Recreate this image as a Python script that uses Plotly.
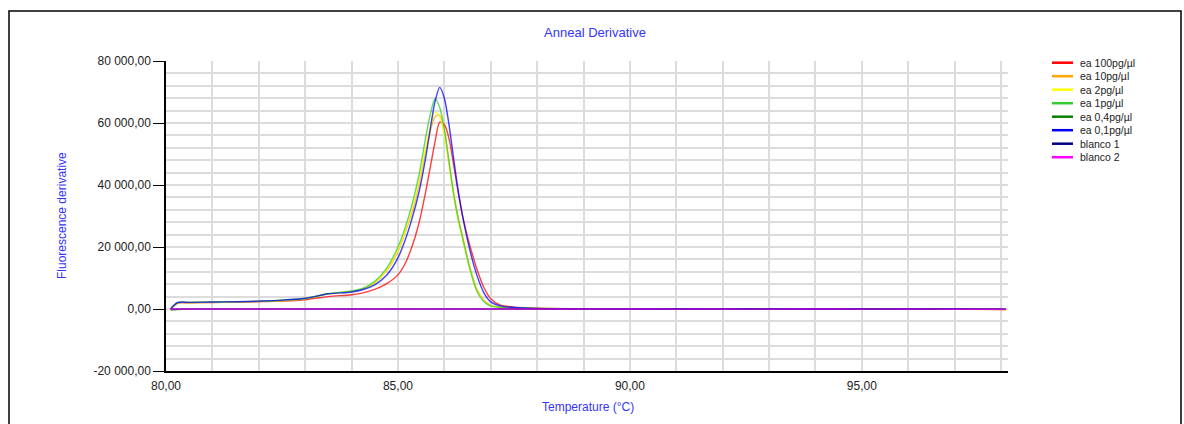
import plotly.graph_objects as go

# ---------------- data ----------------
temperature = [80.10, 80.25, 80.5, 81.0, 81.5, 82.0, 82.5, 83.0, 83.5, 84.0, 84.25, 84.5, 84.75,
               85.0, 85.15, 85.3, 85.45, 85.6, 85.7, 85.8, 85.9, 86.0, 86.1, 86.2, 86.3, 86.4,
               86.55, 86.7, 86.85, 87.0, 87.2, 87.5, 88.0, 89.0, 90.0, 91.0, 92.0, 93.0, 94.0,
               95.0, 96.0, 97.0, 98.1]

ea_100pg = [0, 1900, 2000, 2100, 2200, 2350, 2550, 3000, 4000, 4600, 5200, 6300, 8100,
            11000, 14500, 20000, 27500, 38000, 46000, 54000, 60300, 59500, 55000, 46500, 37500, 29500,
            20500, 13000, 7000, 3300, 1300, 600, 250, 100, 0, 40, -40, 20, 0, -60, 30, -50, -150]
ea_10pg = [0, 1950, 2050, 2150, 2250, 2450, 2750, 3350, 4800, 5600, 6500, 8400, 12200,
           18500, 24500, 31000, 40000, 51000, 57500, 62000, 62500, 57500, 47500, 37500, 29500, 23000,
           13500, 6400, 2800, 1200, 600, 350, 180, 30, -20, 60, 0, -30, 50, -40, 20, -80, -200]
ea_2pg = [0, 2000, 2100, 2200, 2300, 2500, 2800, 3400, 4900, 5700, 6600, 8600, 12500,
          19000, 25000, 32000, 41000, 52500, 59000, 63500, 62000, 56000, 46500, 36500, 28500, 22000,
          13000, 6000, 2600, 1100, 550, 350, 180, 40, 10, -30, 40, -20, 30, -70, 10, -40, -120]
ea_1pg = [0, 2000, 2100, 2200, 2300, 2500, 2800, 3400, 4900, 5800, 6700, 8900, 13000,
          20000, 26000, 33500, 43000, 55500, 63000, 67800, 65000, 58000, 47500, 37000, 29000, 22500,
          13000, 5800, 2400, 1000, 550, 400, 200, 20, -30, 50, -60, 40, -20, -90, 60, -30, -100]
ea_04pg = [-300, -150, -50, 0, 20, -20, 30, 0, -40, 10, 0, 30, -20,
           0, 20, -10, 0, 30, -20, 10, 0, -30, 20, 0, -10, 30,
           -20, 0, 10, -30, 20, 0, -20, 10, -40, 30, -10, 20, -30, 0, 40, -20, -80]
ea_01pg = [0, 2100, 2150, 2250, 2350, 2550, 2850, 3450, 4900, 5500, 6300, 7800, 10800,
           16500, 22000, 29000, 37500, 49000, 58500, 67000, 71500, 68000, 59500, 48500, 38000, 29500,
           19000, 11000, 5300, 2300, 1000, 500, 200, 50, 20, -20, 30, -40, 10, -50, 0, -60, -120]
blanco_1 = [0, -20, 10, 0, -10, 20, 0, -20, 10, 0, -10, 0, 20,
            -10, 0, 10, -20, 0, 10, 0, -10, 20, 0, -10, 10, 0,
            -20, 10, 0, -10, 20, 0, -10, 10, 0, -20, 10, 0, -10, 20, 0, -10, -30]
blanco_2 = [0, 10, -10, 20, 0, -20, 10, 0, -10, 20, 0, -10, 0,
            10, -10, 0, 20, -10, 0, 10, -20, 0, 10, -10, 0, 20,
            0, -10, 10, 0, -20, 10, 0, -10, 20, -30, 0, -50, 10, -40, -20, -60, -60]

series_names = ["ea 100pg/µl", "ea 10pg/µl", "ea 2pg/µl", "ea 1pg/µl",
                "ea 0,4pg/µl", "ea 0,1pg/µl", "blanco 1", "blanco 2"]
series_values = [ea_100pg, ea_10pg, ea_2pg, ea_1pg, ea_04pg, ea_01pg, blanco_1, blanco_2]
series_colors = ["#ff0000", "#ffa500", "#ffff00", "#32cd32",
                 "#008000", "#0000ff", "#000080", "#ff00ff"]

y_ticks = [-20000, 0, 20000, 40000, 60000, 80000]
y_tick_labels = ["-20 000,00", "0,00", "20 000,00", "40 000,00", "60 000,00", "80 000,00"]
x_ticks = [80, 85, 90, 95]
x_tick_labels = ["80,00", "85,00", "90,00", "95,00"]

# ---------------- geometry ----------------
W, H = 1184, 424
L, R, T, B = 166, 176, 61, 53
PW, PH = W - L - R, H - T - B


def px_x(px):
    return (px - L) / PW


def px_y(py):
    return (H - B - py) / PH


fig = go.Figure()
for name, vals, col in zip(series_names, series_values, series_colors):
    fig.add_trace(go.Scatter(
        x=temperature, y=vals, name=name, mode="lines",
        line=dict(color=col, width=1.4, shape="spline", smoothing=0.8),
        opacity=0.75, showlegend=False, hoverinfo="x+y+name"))

font_main = "Liberation Sans, Arial, sans-serif"
title_blue = "#3434ff"
grid_col = "#dcdcdc"

fig.update_layout(
    width=W, height=H,
    margin=dict(l=L, r=R, t=T, b=B, pad=0),
    paper_bgcolor="white", plot_bgcolor="white",
    font=dict(family=font_main, size=12, color="#222222"),
    showlegend=False,
    title=dict(text="Anneal Derivative", x=595 / W, xref="container", xanchor="center",
               y=1 - 32 / H, yref="container", yanchor="middle",
               font=dict(family=font_main, size=13, color=title_blue)),
)

fig.update_xaxes(
    range=[80, 98.15], tickvals=x_ticks, ticktext=x_tick_labels,
    showline=True, linecolor="black", linewidth=1.5,
    showgrid=True, gridcolor=grid_col, gridwidth=1.5,
    ticks="", ticklabelstandoff=3,
    minor=dict(dtick=1, tick0=80, showgrid=True, gridcolor=grid_col, gridwidth=1.5, ticks=""),
    zeroline=False, tickfont=dict(size=12, color="#222222"),
)
fig.update_yaxes(
    range=[-20000, 80000], tickvals=y_ticks, ticktext=y_tick_labels,
    showline=True, linecolor="black", linewidth=1.5,
    showgrid=True, gridcolor=grid_col, gridwidth=1.5,
    ticks="outside", ticklen=11, tickcolor="black", tickwidth=1.2,
    minor=dict(dtick=4000, tick0=0, showgrid=True, gridcolor=grid_col, gridwidth=1.5, ticks=""),
    zeroline=False, tickfont=dict(size=12, color="#222222"),
)

annotations = [
    dict(text="Fluorescence derivative", x=px_x(62), y=0.5, xref="paper", yref="paper",
         textangle=-90, showarrow=False, xanchor="center", yanchor="middle",
         font=dict(family=font_main, size=12, color=title_blue)),
    dict(text="Temperature (°C)", x=px_x(588), y=px_y(407), xref="paper", yref="paper",
         showarrow=False, xanchor="center", yanchor="middle",
         font=dict(family=font_main, size=12, color=title_blue)),
]
shapes = [
    dict(type="rect", xref="paper", yref="paper",
         x0=px_x(9), x1=px_x(1181), y0=px_y(440), y1=px_y(11),
         line=dict(color="black", width=1.5), fillcolor="rgba(0,0,0,0)", layer="above"),
]

# compact legend like the original
leg_y0, leg_dy = 62.7, 13.5
for i, (name, col) in enumerate(zip(series_names, series_colors)):
    yy = px_y(leg_y0 + i * leg_dy)
    shapes.append(dict(type="line", xref="paper", yref="paper",
                       x0=px_x(1052), x1=px_x(1073), y0=yy, y1=yy,
                       line=dict(color=col, width=2.5)))
    annotations.append(dict(text=name, x=px_x(1078), y=yy, xref="paper", yref="paper",
                            showarrow=False, xanchor="left", yanchor="middle",
                            font=dict(family=font_main, size=10.5, color="#222222")))

fig.update_layout(annotations=annotations, shapes=shapes)

fig.write_html("out.html")
